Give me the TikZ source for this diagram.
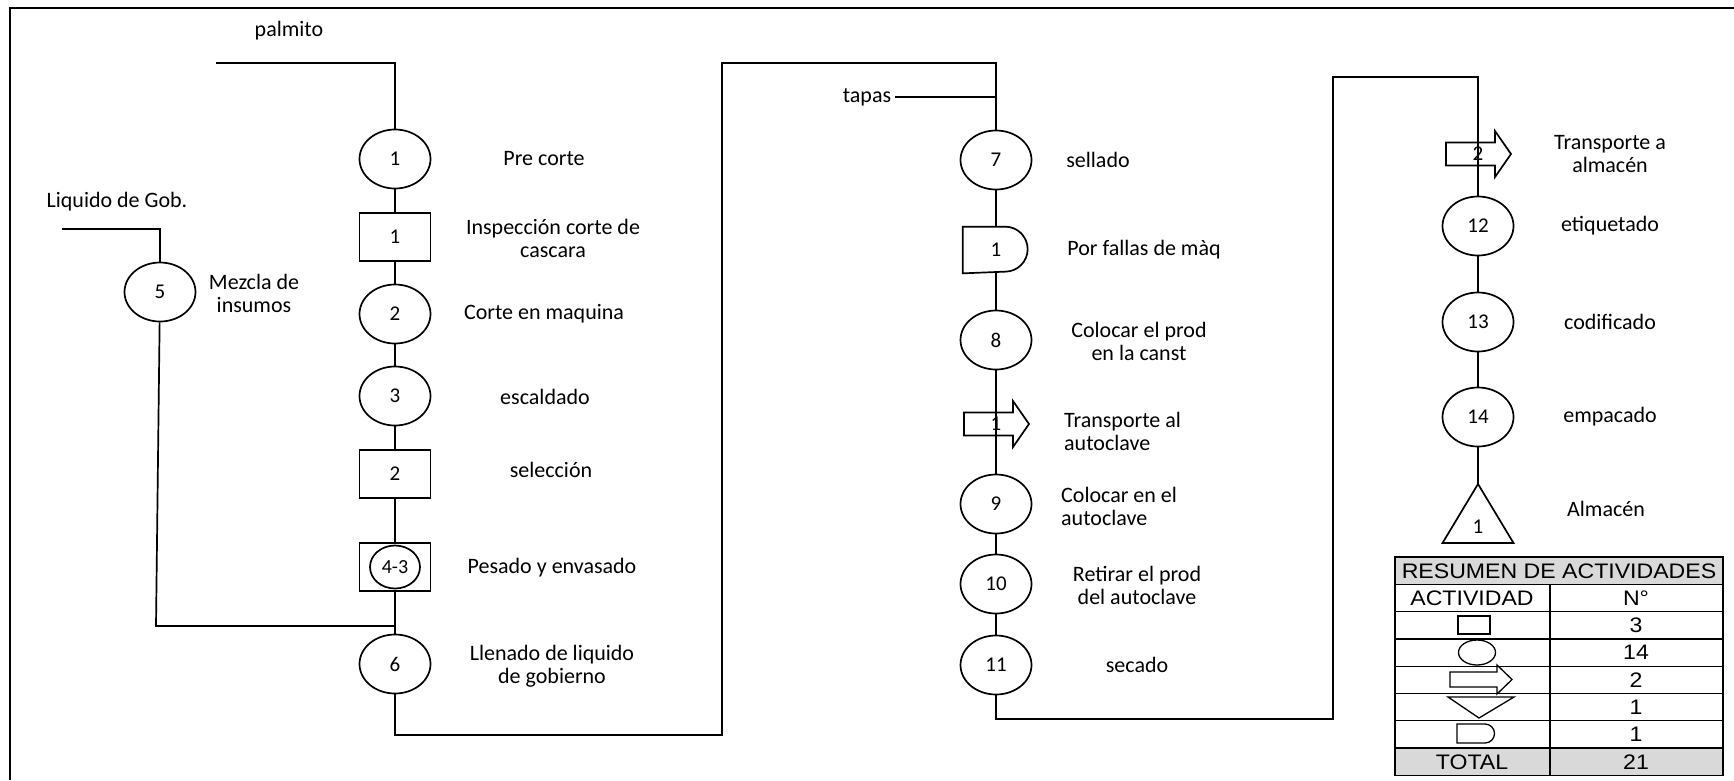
\documentclass[tikz,border=0pt]{standalone}
\usepackage{fontspec}
\setmainfont{Carlito}
\newfontfamily\tablefont[FakeStretch=1.1]{Liberation Sans}
\usepackage{tikz}
\usetikzlibrary{shapes.geometric, calc}

\begin{document}
\begin{tikzpicture}[
    x=1pt, y=-1pt,
    line width=1.7pt,
    font=\fontsize{22}{23}\selectfont,
    oper/.style={ellipse, draw, minimum width=71pt, minimum height=59pt, inner sep=0pt, font=\fontsize{21}{22}\selectfont},
    insp/.style={rectangle, draw, minimum width=71pt, minimum height=48pt, inner sep=0pt, font=\fontsize{21}{22}\selectfont},
    holder/.style={inner sep=0pt, minimum width=66pt, minimum height=46pt, font=\fontsize{21}{22}\selectfont},
    lbl/.style={align=center},
    tcell/.style={font=\tablefont\fontsize{21}{24}\selectfont, inner sep=0pt},
    transpic/.pic={\draw (-32,-11.5) -- ++(49,0) -- ++(0,-11.5) -- ++(16,23) -- ++(-16,23) -- ++(0,-11.5) -- ++(-49,0) -- cycle;},
]
    \useasboundingbox (0,0) rectangle (1734,780);
    \draw (10,780) -- (10,8) -- (1734,8);

    % first column
    \node[oper] (c1) at (395,159) {1};
    \node[insp] (i1) at (395,237) {1};
    \node[oper] (c2) at (395,314) {2};
    \node[oper] (c3) at (395,396) {3};
    \node[insp] (i2) at (395,474) {2};
    \node[insp] (i43) at (395,567) {};
    \node[ellipse, draw, minimum width=50pt, minimum height=43pt, inner sep=0pt, font=\fontsize{20}{22}\selectfont] (c43) at (i43) {4-3};
    \node[oper] (c6) at (395,664) {6};
    \node[oper] (c5) at (160,292) {5};

    \node[lbl] (lpal) at (289,31) {palmito};
    \node[lbl] (l1) at (544,159) {Pre corte};
    \node[lbl] (li1) at (553,238) {Inspección corte de\\cascara};
    \node[lbl] (l2) at (544,314) {Corte en maquina};
    \node[lbl] (l3) at (545,397) {escaldado};
    \node[lbl] (li2) at (551,470) {selección};
    \node[lbl] (l43) at (552,568) {Pesado y envasado};
    \node[lbl] (l6) at (552,666) {Llenado de liquido\\de gobierno};
    \node[lbl] (lliq) at (117,202) {Liquido de Gob.};
    \node[lbl] (l5) at (254,293) {Mezcla de\\insumos};

    \coordinate (palm0) at (216,63);
    \coordinate (palm1) at (395,63);
    \coordinate (liq0) at (62,229);
    \coordinate (liq1) at (160,229);
    \coordinate (join0) at (156,626);
    \coordinate (join1) at (395,626);

    \draw (palm0) -- (palm1) -- (c1);
    \draw (c1) -- (i1) -- (c2) -- (c3) -- (i2) -- (i43);
    \draw (i43) -- (c6);
    \draw (liq0) -- (liq1) -- (c5);
    \draw (c5) -- (join0) -- (join1);

    % second column
    \node[oper] (c7) at (996,160) {7};
    \node[inner sep=0pt, minimum width=65pt, minimum height=45pt, font=\fontsize{21}{22}\selectfont] (d1) at (996,250) {1};
    \draw (d1.north west) -- ++(42.5,0) arc[start angle=90, end angle=-90, radius=22.5pt] -- (d1.south west) -- cycle;
    \node[oper] (c8) at (996,340) {8};
    \node[holder] (t1) at (996,424) {1};
    \pic at (t1) {transpic};
    \node[oper] (c9) at (996,504) {9};
    \node[oper] (c10) at (996,584) {10};
    \node[oper] (c11) at (996,665) {11};

    \node[lbl] (ltap) at (867,97) {tapas};
    \node[lbl] (l7) at (1098,160) {sellado};
    \node[lbl] (ld1) at (1144,250) {Por fallas de màq};
    \node[lbl] (l8) at (1139,341) {Colocar el prod\\en la canst};
    \node[align=left, anchor=west] (lt1) at (1060,431) {Transporte al\\autoclave};
    \node[align=left, anchor=west] (l9) at (1057,506) {Colocar en el\\autoclave};
    \node[lbl] (l10) at (1137,585) {Retirar el prod\\del autoclave};
    \node[lbl] (l11) at (1137,665) {secado};

    \coordinate (lp1) at (395,735);
    \coordinate (lp2) at (722,735);
    \coordinate (lp3) at (722,63);
    \coordinate (lp4) at (996,63);
    \coordinate (tap1) at (996,97);

    \draw (c6) -- (lp1) -- (lp2) -- (lp3) -- (lp4) -- (c7);
    \draw (ltap) -- (tap1);
    \draw (c7) -- (d1) -- (c8) -- (c9) -- (c10) -- (c11);

    % third column
    \node[holder] (t2) at (1478,154) {2};
    \pic at (t2) {transpic};
    \node[oper] (c12) at (1478,226) {12};
    \node[oper] (c13) at (1478,322) {13};
    \node[oper] (c14) at (1478,417) {14};
    \coordinate (s1top) at (1478,484);
    \node[font=\fontsize{21}{22}\selectfont] (s1) at (1478,527) {1};
    \draw (s1top) -- (1513.5,543) -- (1442.5,543) -- cycle;

    \node[lbl] (lt2) at (1610,154) {Transporte a\\almacén};
    \node[lbl] (l12) at (1610,226) {etiquetado};
    \node[lbl] (l13) at (1610,322) {codificado};
    \node[lbl] (l14) at (1610,417) {empacado};
    \node[lbl] (ls1) at (1606,509) {Almacén};

    \coordinate (lq1) at (996,719);
    \coordinate (lq2) at (1333,719);
    \coordinate (lq3) at (1333,77);
    \coordinate (lq4) at (1478,77);

    \draw (c11) -- (lq1) -- (lq2) -- (lq3) -- (lq4) -- (c12);
    \draw (c12) -- (c13) -- (c14) -- (s1top);

    % summary table
    \fill[black!15] (1395,557) rectangle (1723,584.3);
    \fill[black!15] (1395,748.1) rectangle (1723,775.4);
    \begin{scope}[line width=1.3pt]
        \draw (1395,557) rectangle (1723,775.4);
        \foreach \yy in {584.3,611.6,638.9,666.2,693.5,720.8,748.1}
            \draw (1395,\yy) -- (1723,\yy);
        \draw (1550,584.3) -- (1550,775.4);
        \node[rectangle, draw, minimum width=32pt, minimum height=18pt, inner sep=0pt] (ksq) at (1474,625) {};
        \node[ellipse, draw, minimum width=37pt, minimum height=25pt, inner sep=0pt] (kci) at (1477,652.5) {};
        \draw (1450,672) -- (1497,672) -- (1497,665) -- (1512,679.5) -- (1497,694) -- (1497,687) -- (1450,687) -- cycle;
        \draw (1448,697) -- (1514,697) -- (1479,718) -- cycle;
        \draw (1457,724) -- (1485,724) arc[start angle=90, end angle=-90, radius=9.5pt] -- (1457,743) -- cycle;
    \end{scope}

    \node[tcell] (ttit) at (1559,571) {RESUMEN DE ACTIVIDADES};
    \node[tcell] (tact) at (1472,598) {ACTIVIDAD};
    \node[tcell] (tno) at (1636,598) {N°};
    \node[tcell] (n3) at (1636,625.3) {3};
    \node[tcell] (n14) at (1636,652.6) {14};
    \node[tcell] (n2) at (1636,679.9) {2};
    \node[tcell] (n1a) at (1636,707.2) {1};
    \node[tcell] (n1b) at (1636,734.5) {1};
    \node[tcell] (ttot) at (1472,762) {TOTAL};
    \node[tcell] (n21) at (1636,762) {21};

\end{tikzpicture}
\end{document}
